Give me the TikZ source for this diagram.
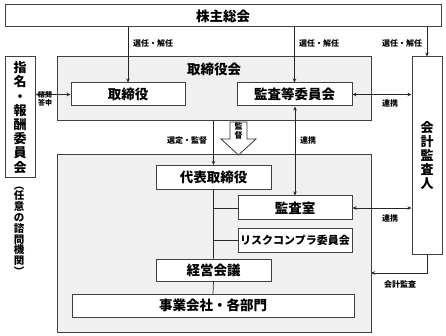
\documentclass[tikz,border=0pt]{standalone}
\usepackage{fontspec}
\setmainfont{Noto Sans CJK JP}
\usetikzlibrary{arrows.meta}
\begin{document}
\begin{tikzpicture}[x=1pt, y=-1pt, >={Stealth[length=4pt,width=3.5pt]},
  every node/.style={inner sep=0pt},
  area/.style={draw=black!75, fill=black!6, line width=1pt},
  box/.style={draw=black!75, fill=white, line width=1pt, font=\fontsize{13.5}{15}\selectfont\bfseries},
  tallbox/.style={box, align=center, font=\fontsize{13}{14.2}\selectfont\bfseries},
  lbl/.style={font=\fontsize{8}{9}\selectfont\bfseries},
  link/.style={line width=0.7pt, black!85}]
  \useasboundingbox (0,0) rectangle (446,336);
  \node[box, minimum width=436pt, minimum height=22pt] (kabu) at (223,16) {株主総会};
  \node[area, minimum width=314pt, minimum height=64pt] (board) at (214,89) {};
  \node[font=\fontsize{13.5}{15}\selectfont\bfseries] (boardtitle) at (214,69) {取締役会};
  \node[area, minimum width=314pt, minimum height=177pt] (exec) at (214,243.5) {};
  \node[box, minimum width=114pt, minimum height=23pt] (tori) at (128,94.5) {取締役};
  \node[box, minimum width=115pt, minimum height=23pt] (kansa) at (294.5,94.5) {監査等委員会};
  \node[tallbox, minimum width=30pt, minimum height=121pt] (shimei) at (20,117.5) {指\\名\\・\\報\\酬\\委\\員\\会};
  \node[align=center, font=\fontsize{10.5}{10.8}\selectfont\bfseries] (nin) at (19,231) {︵\\任\\意\\の\\諮\\問\\機\\関\\︶};
  \node[tallbox, minimum width=30pt, minimum height=197pt] (kaikei) at (427,155.5) {会\\計\\監\\査\\人};
  \node[box, minimum width=115pt, minimum height=24pt] (daihyo) at (213.5,177.5) {代表取締役};
  \node[box, minimum width=114pt, minimum height=24pt] (shitsu) at (295,208) {監査室};
  \node[box, minimum width=114pt, minimum height=23pt, font=\fontsize{11}{12}\selectfont\bfseries] (risk) at (295,240.5) {リスクコンプラ委員会};
  \node[box, minimum width=115pt, minimum height=22pt] (keiei) at (213.5,270) {経営会議};
  \node[box, minimum width=282pt, minimum height=23pt] (jigyo) at (213,305.5) {事業会社・各部門};
  \draw[fill=white, line width=0.8pt, draw=black!80] (230,122) -- (247,122) -- (247,139) -- (256,139) -- (238.5,155) -- (221,139) -- (230,139) -- cycle;
  \node[align=center, font=\fontsize{8}{8.5}\selectfont\bfseries] (kantoku) at (238.5,131) {監\\督};
  \coordinate (auditend) at (371,273);
  \draw[link, ->] (tori |- kabu.south) -- (tori.north);
  \draw[link, ->] (kansa |- kabu.south) -- (kansa.north);
  \draw[link, ->] (kaikei |- kabu.south) -- (kaikei.north);
  \draw[link, <->] (tori.west -| shimei.east) -- (tori.west);
  \draw[link, <->] (kansa.east) -- (kansa.east -| kaikei.west);
  \draw[link, ->] (daihyo |- board.south) -- (daihyo.north);
  \draw[link, <->] (kansa.south -| shitsu.north) -- (shitsu.north);
  \draw[link, <->] (shitsu.east) -- (shitsu.east -| kaikei.west);
  \draw[link] (daihyo.south) -- (keiei.north) (keiei.south) -- (jigyo.north);
  \draw[link] (daihyo.south |- shitsu.west) -- (shitsu.west) (daihyo.south |- risk.west) -- (risk.west);
  \draw[link, ->] (kaikei.south) |- (auditend);
  \node[lbl] (sennin1) at (153,43) {選任・解任};
  \node[lbl] (sennin2) at (319,43) {選任・解任};
  \node[lbl] (sennin3) at (402,43) {選任・解任};
  \node[lbl, align=center, font=\fontsize{7}{8.5}\selectfont\bfseries] (shimon) at (45,99) {諮問\\答申};
  \node[lbl] (sentei) at (187,140) {選定・監督};
  \node[lbl] (renkei1) at (390,103) {連携};
  \node[lbl] (renkei2) at (308,140) {連携};
  \node[lbl] (renkei3) at (390,218) {連携};
  \node[lbl] (kansatext) at (400,284) {会計監査};
\end{tikzpicture}
\end{document}
